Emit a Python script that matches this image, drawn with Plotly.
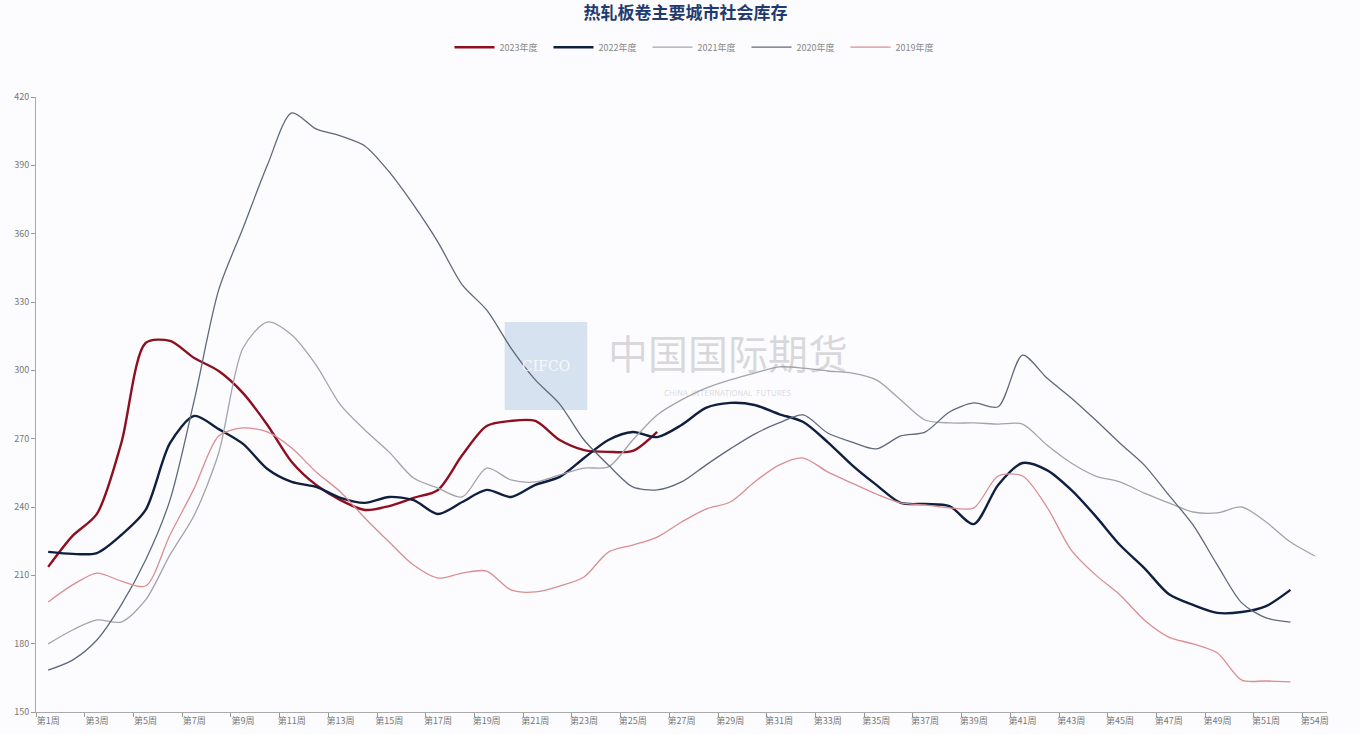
import plotly.graph_objects as go

weeks = [f"第{i}周" for i in range(1, 53)] + ["第54周"]

y2023 = [213.7, 227.3, 237.0, 268.0, 312.0, 312.9, 305.4, 299.7, 290.0, 276.0,
         259.8, 249.7, 243.0, 238.7, 240.4, 244.0, 247.5, 262.8, 275.6, 277.8,
         277.8, 269.4, 265.0, 264.2, 264.6, 273.0]

y2022 = [220.3, 219.4, 219.8, 227.7, 238.7, 268.0, 280.0, 274.2, 267.7, 256.7,
         251.0, 248.8, 244.0, 241.8, 244.4, 243.0, 236.9, 242.2, 247.5, 244.4,
         249.7, 253.2, 261.5, 269.4, 272.9, 270.7, 276.0, 283.5, 285.7, 284.8,
         280.8, 277.3, 268.5, 258.4, 249.7, 241.8, 241.3, 240.4, 232.5, 249.7,
         259.3, 256.2, 247.5, 236.0, 223.3, 213.2, 201.8, 197.0, 193.5, 193.9,
         196.5, 203.6]

y2021 = [179.9, 186.0, 190.4, 189.5, 199.2, 219.0, 236.5, 263.7, 309.8, 321.2,
         315.5, 302.3, 284.8, 273.8, 264.1, 252.7, 248.3, 244.4, 257.1, 251.9,
         251.0, 254.1, 257.1, 257.6, 269.4, 280.4, 287.0, 292.2, 295.8, 298.8,
         301.5, 301.0, 299.7, 298.8, 295.8, 287.0, 278.2, 276.9, 276.9, 276.4,
         276.4, 267.2, 259.3, 253.6, 251.0, 246.1, 241.8, 237.8, 237.4, 240.0,
         233.4, 224.6, 218.5]

y2020 = [168.4, 172.8, 181.6, 197.0, 216.7, 243.0, 287.0, 335.3, 362.5, 390.1,
         413.0, 406.0, 402.9, 398.5, 387.1, 372.6, 356.3, 337.5, 326.5, 309.8,
         295.8, 285.2, 269.4, 258.4, 248.8, 247.5, 251.0, 258.4, 265.5, 272.0,
         276.9, 280.4, 272.5, 268.5, 265.5, 271.2, 272.9, 281.7, 285.7, 284.0,
         306.7, 296.6, 287.9, 278.2, 268.0, 258.4, 245.3, 232.1, 214.5, 197.9,
         191.3, 189.5]

y2019 = [198.3, 205.8, 211.0, 207.5, 205.3, 227.7, 248.3, 271.2, 274.7, 273.0,
         265.9, 255.4, 246.6, 235.2, 224.6, 214.5, 208.8, 211.0, 211.9, 203.6,
         202.7, 205.3, 209.3, 220.2, 223.3, 226.8, 233.4, 239.1, 242.2, 251.0,
         258.4, 261.5, 255.4, 250.5, 245.7, 241.8, 240.9, 239.6, 239.6, 253.6,
         253.6, 240.0, 221.1, 210.2, 201.4, 190.4, 182.9, 179.9, 175.9, 164.0,
         163.6, 163.2]

series = [
    ("2023年度", y2023, "#8e0f1f", 2.4),
    ("2022年度", y2022, "#0f1f3f", 2.4),
    ("2021年度", y2021, "#a3a3ab", 1.3),
    ("2020年度", y2020, "#5f687a", 1.3),
    ("2019年度", y2019, "#d98e92", 1.3),
]

fig = go.Figure()
for name, vals, color, width in series:
    fig.add_trace(go.Scatter(
        x=weeks[:len(vals)], y=vals, name=name, mode="lines",
        line=dict(color=color, width=width, shape="spline", smoothing=0.8),
    ))

font_family = "Noto Sans CJK SC"

fig.update_layout(
    width=1360, height=734,
    paper_bgcolor="#fcfcfe", plot_bgcolor="#fcfcfe",
    margin=dict(l=36, r=33, t=97, b=22),
    font=dict(family=font_family, size=9, color="#777777"),
    title=dict(text="<b>热轧板卷主要城市社会库存</b>", x=0.504, xanchor="center",
               y=0.982, yanchor="middle",
               font=dict(family=font_family, size=17, color="#1f3a6e")),
    showlegend=True,
    legend=dict(orientation="h", x=0.512, xanchor="center", y=1.081, yanchor="middle",
                font=dict(size=9, color="#888888"), entrywidth=44,
                bgcolor="rgba(0,0,0,0)", itemwidth=40),
    xaxis=dict(type="category", categoryorder="array", categoryarray=weeks,
               range=[-0.5, 52.5], tickmode="linear", tick0=0, dtick=2,
               tickson="boundaries", ticks="outside", ticklen=4, tickcolor="#999999",
               showline=True, linecolor="#aaaaaa", linewidth=1, showgrid=False,
               tickangle=0, tickfont=dict(size=9, color="#777777"), zeroline=False,
               automargin=False),
    yaxis=dict(range=[150, 420], tickmode="linear", tick0=150, dtick=30,
               ticks="outside", ticklen=4, tickcolor="#999999",
               showline=True, linecolor="#aaaaaa", linewidth=1, showgrid=False,
               tickfont=dict(size=9, color="#777777"), zeroline=False,
               automargin=False),
)

# watermark
fig.add_shape(type="rect", xref="paper", yref="paper",
              x0=0.363, x1=0.427, y0=0.491, y1=0.634,
              fillcolor="rgba(170,195,225,0.45)", line=dict(width=0), layer="below")
fig.add_annotation(xref="paper", yref="paper", x=0.395, y=0.562, text="CIFCO",
                   showarrow=False, font=dict(size=14, color="rgba(255,255,255,0.8)",
                                               family="DejaVu Serif"))
fig.add_annotation(xref="paper", yref="paper", x=0.536, y=0.585, text="中国国际期货",
                   showarrow=False, font=dict(size=40, color="rgba(150,150,155,0.35)",
                                               family=font_family))
fig.add_annotation(xref="paper", yref="paper", x=0.536, y=0.52,
                   text="CHINA  INTERNATIONAL  FUTURES", showarrow=False,
                   font=dict(size=8, color="rgba(150,150,155,0.35)"))

fig.write_html("out.html", config={"displayModeBar": False},
               post_script="document.body.style.margin='0';document.body.style.overflow='hidden';")
